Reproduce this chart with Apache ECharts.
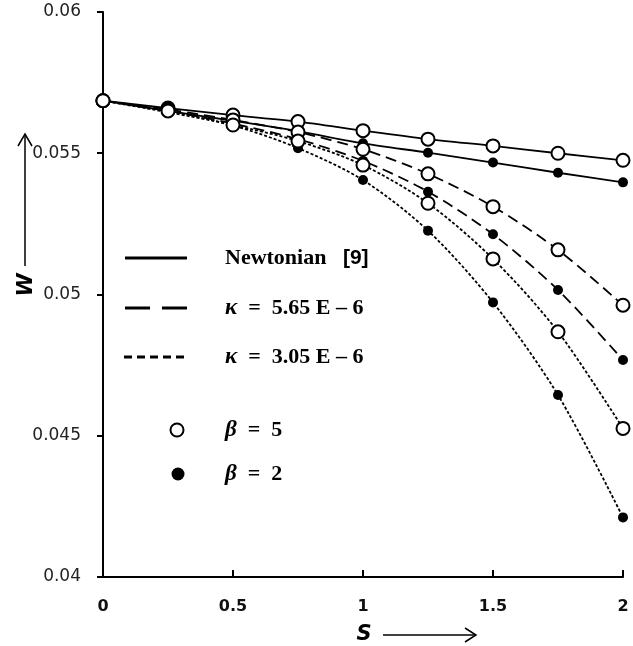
<!DOCTYPE html>
<html>
<head>
<meta charset="utf-8">
<script src="https://cdn.jsdelivr.net/npm/echarts@6/dist/echarts.min.js"></script>
<style>html,body{margin:0;padding:0;background:#fff}#c{width:633px;height:646px}</style>
</head>
<body>
<div id="c"></div>
<script>
var sValues = [0, 0.25, 0.5, 0.75, 1, 1.25, 1.5, 1.75, 2];
var xTicks = [0, 0.5, 1, 1.5, 2];
var yTicks = [0.04, 0.045, 0.05, 0.055, 0.06];

var newtonianBeta5 = [0.05686, 0.05660, 0.05635, 0.05612, 0.05580, 0.05550, 0.05526, 0.05500, 0.05475];
var newtonianBeta2 = [0.05686, 0.05650, 0.05615, 0.05578, 0.05535, 0.05502, 0.05467, 0.05431, 0.05397];
var kappa565Beta5 = [0.05686, 0.05655, 0.05618, 0.05575, 0.05514, 0.05427, 0.05311, 0.05158, 0.04962];
var kappa565Beta2 = [0.05686, 0.05650, 0.05605, 0.05550, 0.05473, 0.05364, 0.05213, 0.05016, 0.04768];
var kappa305Beta5 = [0.05686, 0.05650, 0.05600, 0.05543, 0.05458, 0.05323, 0.05126, 0.04868, 0.04526];
var kappa305Beta2 = [0.05686, 0.05645, 0.05598, 0.05518, 0.05405, 0.05226, 0.04972, 0.04644, 0.04211];

function pts(arr) { return sValues.map(function (s, i) { return [s, arr[i]]; }); }

var lineStyles = { solid: 'solid', dashed: [11, 6], dotted: [3, 2] };

function mk(name, arr, style, open) {
  return {
    name: name,
    type: 'line',
    data: pts(arr),
    smooth: 0.3,
    symbol: 'circle',
    symbolSize: open ? 13 : 10,
    showSymbol: true,
    z: open ? 4 : 3,
    lineStyle: { color: '#000', width: 1.8, type: lineStyles[style] },
    itemStyle: open ? { color: '#fff', borderColor: '#000', borderWidth: 2 } : { color: '#000', borderColor: '#000', borderWidth: 0 },
    emphasis: { disabled: true }
  };
}

var chart = echarts.init(document.getElementById('c'), null, { renderer: 'canvas' });
var serif = '"Liberation Serif", "Times New Roman", serif';
var sans = '"DejaVu Sans", sans-serif';
var italicRich = { fontStyle: 'italic', fontWeight: 'bold', fontFamily: serif, fontSize: 23, fill: '#000' };
chart.setOption({
  animation: false,
  backgroundColor: '#fff',
  grid: { left: 103, right: 10, top: 12, bottom: 69, containLabel: false },
  xAxis: {
    type: 'value', min: xTicks[0], max: xTicks[xTicks.length - 1], interval: 0.5,
    splitLine: { show: false },
    axisLine: { lineStyle: { color: '#000', width: 2 } },
    axisTick: { inside: true, length: 7, lineStyle: { color: '#000', width: 2 } },
    axisLabel: { margin: 22, color: '#111', fontSize: 16, fontWeight: 'bold', fontFamily: sans }
  },
  yAxis: {
    type: 'value', min: yTicks[0], max: yTicks[yTicks.length - 1], interval: 0.005,
    splitLine: { show: false },
    axisLine: { show: true, lineStyle: { color: '#000', width: 2 } },
    axisTick: { show: true, inside: false, length: 6, lineStyle: { color: '#000', width: 2 } },
    axisLabel: { margin: 22, color: '#222', fontSize: 17, fontFamily: sans }
  },
  series: [
    mk('Newtonian β=5', newtonianBeta5, 'solid', true),
    mk('Newtonian β=2', newtonianBeta2, 'solid', false),
    mk('κ=5.65E-6 β=5', kappa565Beta5, 'dashed', true),
    mk('κ=5.65E-6 β=2', kappa565Beta2, 'dashed', false),
    mk('κ=3.05E-6 β=5', kappa305Beta5, 'dotted', true),
    mk('κ=3.05E-6 β=2', kappa305Beta2, 'dotted', false)
  ],
  graphic: [
    { type: 'line', shape: { x1: 125, y1: 258, x2: 187, y2: 258 }, style: { stroke: '#000', lineWidth: 3 } },
    { type: 'line', shape: { x1: 125, y1: 308, x2: 187, y2: 308 }, style: { stroke: '#000', lineWidth: 3, lineDash: [25, 12] } },
    { type: 'line', shape: { x1: 124, y1: 357, x2: 187, y2: 357 }, style: { stroke: '#000', lineWidth: 3, lineDash: [8, 5] } },
    { type: 'circle', shape: { cx: 177, cy: 430, r: 6.5 }, style: { fill: '#fff', stroke: '#000', lineWidth: 2 } },
    { type: 'circle', shape: { cx: 178, cy: 474, r: 6.5 }, style: { fill: '#000' } },
    { type: 'text', x: 225, y: 258, style: {
        text: 'Newtonian   {r|[9]}', fill: '#000', font: 'bold 22px ' + serif, verticalAlign: 'middle',
        rich: { r: { fontFamily: '"Liberation Sans", Arial, sans-serif', fontWeight: 'bold', fontSize: 21, fill: '#000' } } } },
    { type: 'text', x: 225, y: 308, style: {
        text: '{k|κ}  =  5.65 E – 6', fill: '#000', font: 'bold 22px ' + serif, verticalAlign: 'middle',
        rich: { k: italicRich } } },
    { type: 'text', x: 225, y: 357, style: {
        text: '{k|κ}  =  3.05 E – 6', fill: '#000', font: 'bold 22px ' + serif, verticalAlign: 'middle',
        rich: { k: italicRich } } },
    { type: 'text', x: 225, y: 430, style: {
        text: '{b|β}  =  5', fill: '#000', font: 'bold 22px ' + serif, verticalAlign: 'middle',
        rich: { b: italicRich } } },
    { type: 'text', x: 225, y: 474, style: {
        text: '{b|β}  =  2', fill: '#000', font: 'bold 22px ' + serif, verticalAlign: 'middle',
        rich: { b: italicRich } } },
    { type: 'text', x: 364, y: 635, style: { text: 'S', fill: '#000', font: 'italic bold 21px ' + sans, align: 'center', verticalAlign: 'middle' } },
    { type: 'line', shape: { x1: 383, y1: 635, x2: 475, y2: 635 }, style: { stroke: '#000', lineWidth: 1.5 } },
    { type: 'polyline', shape: { points: [[465, 628], [476, 635], [465, 642]] }, style: { stroke: '#000', lineWidth: 1.5, fill: null } },
    { type: 'text', x: 27, y: 285, rotation: Math.PI / 2, style: { text: 'W', fill: '#000', font: 'italic bold 21px ' + sans, align: 'center', verticalAlign: 'middle' } },
    { type: 'line', shape: { x1: 25, y1: 266, x2: 25, y2: 135 }, style: { stroke: '#000', lineWidth: 1.5 } },
    { type: 'polyline', shape: { points: [[18, 146], [25, 134], [32, 146]] }, style: { stroke: '#000', lineWidth: 1.5, fill: null } }
  ]
});
</script>
</body>
</html>
